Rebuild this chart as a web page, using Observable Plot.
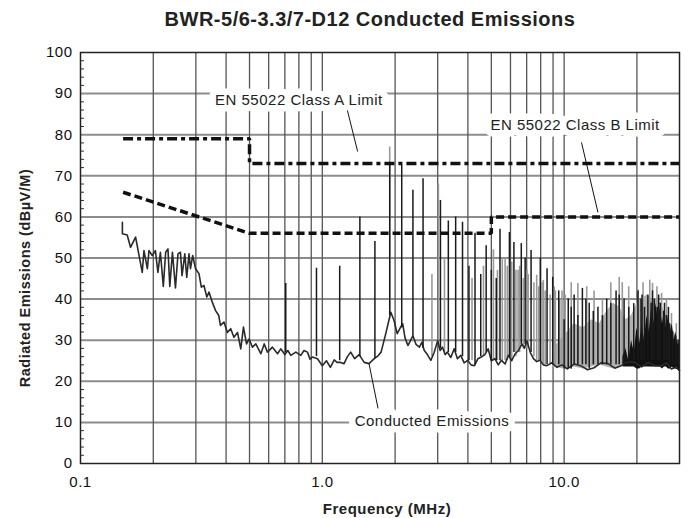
<!DOCTYPE html>
<html>
<head>
<meta charset="utf-8">
<script src="https://cdn.jsdelivr.net/npm/d3@7"></script>
<script src="https://cdn.jsdelivr.net/npm/@observablehq/plot@0.6"></script>
<style>
  html, body { margin: 0; padding: 0; background: #fff; }
  #chart { width: 688px; height: 518px; }
</style>
</head>
<body>
<div id="chart"></div>
<script>
// ---------- text ----------
const title = "BWR-5/6-3.3/7-D12 Conducted Emissions";
const xLabel = "Frequency (MHz)";
const yLabel = "Radiated Emissions (dBµV/M)";

// ---------- ticks / grid ----------
const xTicks = [0.1, 1, 10];
const xGrid = [0.2, 0.3, 0.4, 0.5, 0.6, 0.7, 0.8, 0.9, 1, 2, 3, 4, 5, 6, 7, 8, 9, 10, 20];
const yTicks = [0, 10, 20, 30, 40, 50, 60, 70, 80, 90, 100];
const yGrid = [10, 20, 30, 40, 50, 60, 70, 80, 90];
const yMinor = d3.range(2, 100, 2).filter(v => v % 10 !== 0);

// ---------- limit lines ----------
const classAFreq = [0.15, 0.5, 0.5, 30];
const classALevel = [79, 79, 73, 73];
const classBFreq = [0.15, 0.5, 5, 5, 30];
const classBLevel = [66, 56, 56, 60, 60];

// ---------- conducted emissions trace (noise floor) ----------
const ceFreq = [0.149,0.149,0.156,0.161,0.169,0.180,0.183,0.189,0.192,0.198,0.204,0.209,0.214,0.220,0.225,0.230,0.234,0.240,0.247,0.253,0.259,0.263,0.270,0.275,0.281,0.285,0.291,0.299,0.309,0.316,0.324,0.333,0.340,0.351,0.362,0.373,0.379,0.392,0.405,0.418,0.431,0.446,0.460,0.472,0.486,0.498,0.514,0.531,0.557,0.575,0.593,0.622,0.653,0.673,0.700,0.720,0.741,0.777,0.815,0.840,0.868,0.890,0.910,0.955,1.00,1.04,1.08,1.12,1.15,1.19,1.23,1.27,1.31,1.36,1.42,1.49,1.56,1.64,1.70,1.75,1.83,1.92,1.98,2.04,2.10,2.15,2.20,2.26,2.32,2.37,2.44,2.52,2.58,2.64,2.72,2.81,2.90,3.00,3.07,3.14,3.22,3.29,3.40,3.51,3.62,3.74,3.86,3.99,4.12,4.26,4.40,4.54,4.70,4.85,5.00,5.17,5.34,5.51,5.70,5.88,6.07,6.27,6.48,6.69,6.85,7.01,7.25,7.47,7.70,7.96,8.20,8.49,8.90,9.34,9.80,10.3,11.0,11.7,12.5,13.3,14.2,15.2,16.2,17.2,18.4,19.6,20.9,22.3,23.8,25.3,26.5,27.8,29.0,30.0];
const ceLevel = [58.7,55.9,55.6,52.6,55.1,46.5,51.8,47.4,51.8,50.6,51.8,46.5,51.4,43.1,51.4,52.2,43.1,51.4,42.7,51.0,51.4,45.7,51.0,45.3,51.0,47.4,50.6,47.4,46.2,42.9,43.3,40.5,41.7,39.2,37.2,36.0,33.6,34.4,31.9,32.8,30.7,31.9,27.9,33.2,29.1,30.3,28.3,29.1,26.7,29.1,27.1,28.3,26.7,27.9,26.5,27.5,26.3,27.1,26.3,27.5,27.1,25.4,25.9,25.5,23.8,25.0,23.4,25.2,24.6,24.6,24.3,26.0,27.1,25.5,26.5,24.6,24.3,25.5,26.2,27.1,31.6,36.8,34.8,31.6,33.0,34.0,30.5,28.7,30.0,31.1,29.0,28.3,29.5,27.5,26.5,25.1,27.0,29.9,27.5,28.3,26.5,27.1,25.8,27.9,25.5,26.3,24.5,25.1,24.0,23.8,25.5,25.9,26.5,27.9,25.0,25.5,24.0,25.1,24.2,26.3,25.0,26.7,27.5,29.1,28.0,29.9,27.0,25.5,24.8,25.1,24.0,23.8,24.5,23.4,24.0,23.0,24.2,23.8,22.8,23.3,24.5,24.3,23.2,23.8,24.8,24.6,23.5,24.6,23.8,23.8,24.5,23.0,23.5,22.6];

// ---------- dense high-frequency envelopes ----------
const greyEnvFreq = [9.0, 10.0, 11.0, 12.0, 13.0, 14.0, 15.0, 16.0, 17.0, 18.0, 19.0, 20.0, 21.0, 22.0, 23.0, 24.0, 25.0, 26.0, 27.0, 28.0, 29.0, 30.0];
const greyEnvTop = [28, 31, 34, 33, 35, 34, 37, 39, 38, 35, 36, 39, 40, 41, 40, 40, 39, 37, 35, 33, 31, 29];
const greyEnvBase = [23.5, 23, 23.5, 23, 23.5, 24, 23.5, 23, 23.5, 24, 24, 23.5, 24, 24, 23.5, 23.5, 23.5, 24, 23, 23.5, 23, 22.6];
const blackMassFreq = [17.5, 18, 18.5, 19, 19.5, 20, 20.5, 21, 21.5, 22, 22.5, 23, 23.5, 24, 24.5, 25, 25.5, 26, 26.5, 27, 27.5, 28, 28.5, 29, 29.5, 30];
const blackMassTop = [26, 28, 25, 30, 27, 33, 29, 34, 30, 36, 32, 38, 34, 39, 35, 38, 34, 37, 33, 36, 32, 34, 30, 32, 29, 29];
const blackMassBase = [23.5, 23.5, 23.5, 23.5, 23.5, 23, 23, 23.5, 23.5, 23.5, 23.5, 23.5, 23.5, 23.5, 23.5, 23.5, 23, 23.5, 23.5, 23, 23, 23.5, 23, 23, 22.8, 22.6];

// ---------- harmonic spikes (dark) ----------
const spikeFreq = [0.706,0.946,1.18,1.43,1.65,1.90,2.13,2.37,2.61,3.08,3.32,3.56,3.80,4.04,4.28,4.52,4.76,5.00,5.24,5.43,5.94,6.20,6.65,6.90,7.30,7.97,8.50,8.97,9.5,10.0,10.4,10.7,11.0,11.4,11.9,12.3,12.7,13.2,13.8,14.4,15.0,15.6,16.4,16.9,17.7,18.5,19.4,20.2,20.8,21.0,21.5,22.2,22.9,23.2,23.6,24.3,24.6,25.0,25.8,26.0,26.5,27.0,27.3,28.1,28.9,29.6];
const spikeBase = [27,26,25,26,25.5,36,33,31,28,28,27,27,26,25,24,26,27,25,25,25,26,27,29,29,27,25,24,24,24,23,23,23,24,24,24,24,23,24,24,24,24,24,24,24,24,24,25,25,25,25,25,25,25,25,25,25,25,25,25,25,25,25,24,24,24,24];
const spikeTop = [43.8,47.5,48,60,54,73,72.5,66.5,69.3,64,59,60,58.7,48,56,46,53,47,45,57,56.2,53.8,53.5,50,51.8,50,47.4,45.3,42,35,40,38,41,36,42.6,40,39,37,38,36,40,39,42,41,40,38,38.9,42,40,41,38,41,39,42,40,38,41,39,37,39,36,38,34,32,31,30];

// ---------- peak-detector spikes (grey) ----------
const altFreq = [1.90,2.84,3.02,3.20,4.16,4.64,5.10,5.30,5.55,5.70,5.82,6.07,6.32,6.45,6.55,6.78,7.02,7.10,7.50,7.70,7.85,8.10,8.20,8.35,8.75,9.1,9.2,9.6,9.8,10.1,10.7,11.4,12.4,13.3,14.4,15.6,16.9,17.4,18.5,20.2,21.2,22.6,23.2,24.2,25.3,26.5,27.8,29.1];
const altBase = [36,26,28,27,25,26,25,25,25,25,25,25,26,27,27,28,28,28,26,25,25,24,24,24,24,24,24,24,24,23,23,24,24,24,24,24,24,24,24,24,24,24,24,24,24,24,24,24];
const altTop = [77,46,68,50,45,48,52,47,50,50,48,49,47,47,48,45,47,46,44,45.8,43,44,44.5,42,41,43,42,40,42,41,44,43.8,43,42,40,44,45.3,44,43,42.3,44,44.6,43.8,43,41.4,39.7,36.5,34];

// ---------- annotations ----------
const labelText = ["EN 55022 Class A Limit", "EN 55022 Class B Limit", "Conducted Emissions"];
const labelFreq = [0.80, 11.1, 2.84];
const labelLevel = [88.3, 82.2, 10.2];
const leaderFreq1 = [1.27, 11.8, 1.70];
const leaderLevel1 = [85.9, 78.1, 13.4];
const leaderFreq2 = [1.40, 13.8, 1.56];
const leaderLevel2 = [75.9, 61.1, 24.3];

// ---------- build tables ----------
const classA = classAFreq.map((f, i) => ({f, v: classALevel[i]}));
const classB = classBFreq.map((f, i) => ({f, v: classBLevel[i]}));
const trace = ceFreq.map((f, i) => ({f, v: ceLevel[i]}));
const greyEnv = greyEnvFreq.map((f, i) => ({f, b: greyEnvBase[i], t: greyEnvTop[i]}));
const blackMass = blackMassFreq.map((f, i) => ({f, b: blackMassBase[i], t: blackMassTop[i]}));
const spikes = spikeFreq.map((f, i) => ({f, b: spikeBase[i], t: spikeTop[i]}));
const alts = altFreq.map((f, i) => ({f, b: altBase[i], t: altTop[i]}));
const labels = labelText.map((t, i) => ({t, f: labelFreq[i], v: labelLevel[i]}));
const leaders = leaderFreq1.map((f, i) => ({f1: f, v1: leaderLevel1[i], f2: leaderFreq2[i], v2: leaderLevel2[i]}));

const font = "'Liberation Sans', Arial, Helvetica, sans-serif";
const W = 688, H = 518, ML = 80, MR = 9, MT = 52, MB = 55;

const chart = Plot.plot({
  width: W,
  height: H,
  marginLeft: ML,
  marginRight: MR,
  marginTop: MT,
  marginBottom: MB,
  style: {fontFamily: font, fontSize: "15px", background: "white", color: "#111", letterSpacing: "0.5px"},
  x: {type: "log", domain: [0.1, 30]},
  y: {domain: [0, 100]},
  marks: [
    // grid
    Plot.ruleY(yGrid, {stroke: "#8c8c8c", strokeWidth: 2}),
    Plot.ruleX(xGrid, {stroke: "#555", strokeWidth: 1.3}),
    // minor ticks on the left edge (inside)
    Plot.tickY(yMinor, {y: d => d, insetRight: W - ML - MR - 4, stroke: "#333", strokeWidth: 1}),
    // dense high-frequency region
    Plot.areaY(greyEnv, {x: "f", y1: "b", y2: "t", fill: "#b0b0b0", curve: "linear"}),
    Plot.ruleX(alts, {x: "f", y1: "b", y2: "t", stroke: "#999", strokeWidth: 1.6}),
    Plot.areaY(blackMass, {x: "f", y1: "b", y2: "t", fill: "#111", curve: "linear"}),
    // trace
    Plot.line(trace, {x: "f", y: "v", stroke: "#2a2a2a", strokeWidth: 1.6}),
    Plot.ruleX(spikes, {x: "f", y1: "b", y2: "t", stroke: "#1a1a1a", strokeWidth: 1.5}),
    // limits
    Plot.line(classA, {x: "f", y: "v", stroke: "#111", strokeWidth: 3.5, strokeDasharray: "10,4,4,4", strokeLinecap: "butt", strokeLinejoin: "miter"}),
    Plot.line(classB, {x: "f", y: "v", stroke: "#111", strokeWidth: 3.5, strokeDasharray: "8,4", strokeLinecap: "butt", strokeLinejoin: "miter"}),
    // annotations
    Plot.text(labels, {x: "f", y: "v", text: "t", fill: "#222", stroke: "white", strokeWidth: 13, fontSize: 15}),
    Plot.link(leaders, {x1: "f1", y1: "v1", x2: "f2", y2: "v2", stroke: "#111", strokeWidth: 1}),
    // frame & axes
    Plot.frame({stroke: "#222", strokeWidth: 1.5}),
    Plot.axisY(yTicks, {anchor: "left", tickSize: 0, tickPadding: 8, label: null, fontSize: 15}),
    Plot.axisX(xTicks, {anchor: "bottom", tickSize: 0, tickPadding: 13, label: null, tickFormat: d3.format(".1f"), fontSize: 15}),
    // titles
    Plot.text([title], {frameAnchor: "top", text: d => d, dx: -10, dy: -41, fontSize: 20, fontWeight: "bold", fill: "#222"}),
    Plot.text([xLabel], {frameAnchor: "bottom", text: d => d, dx: 7, dy: 50, fontSize: 15, fontWeight: "bold", fill: "#222"}),
    Plot.text([yLabel], {frameAnchor: "left", textAnchor: "middle", lineAnchor: "middle", text: d => d, dx: -55, dy: 20, rotate: -90, fontSize: 14.5, fontWeight: "bold", fill: "#222"})
  ]
});
document.getElementById("chart").append(chart);
</script>
</body>
</html>
